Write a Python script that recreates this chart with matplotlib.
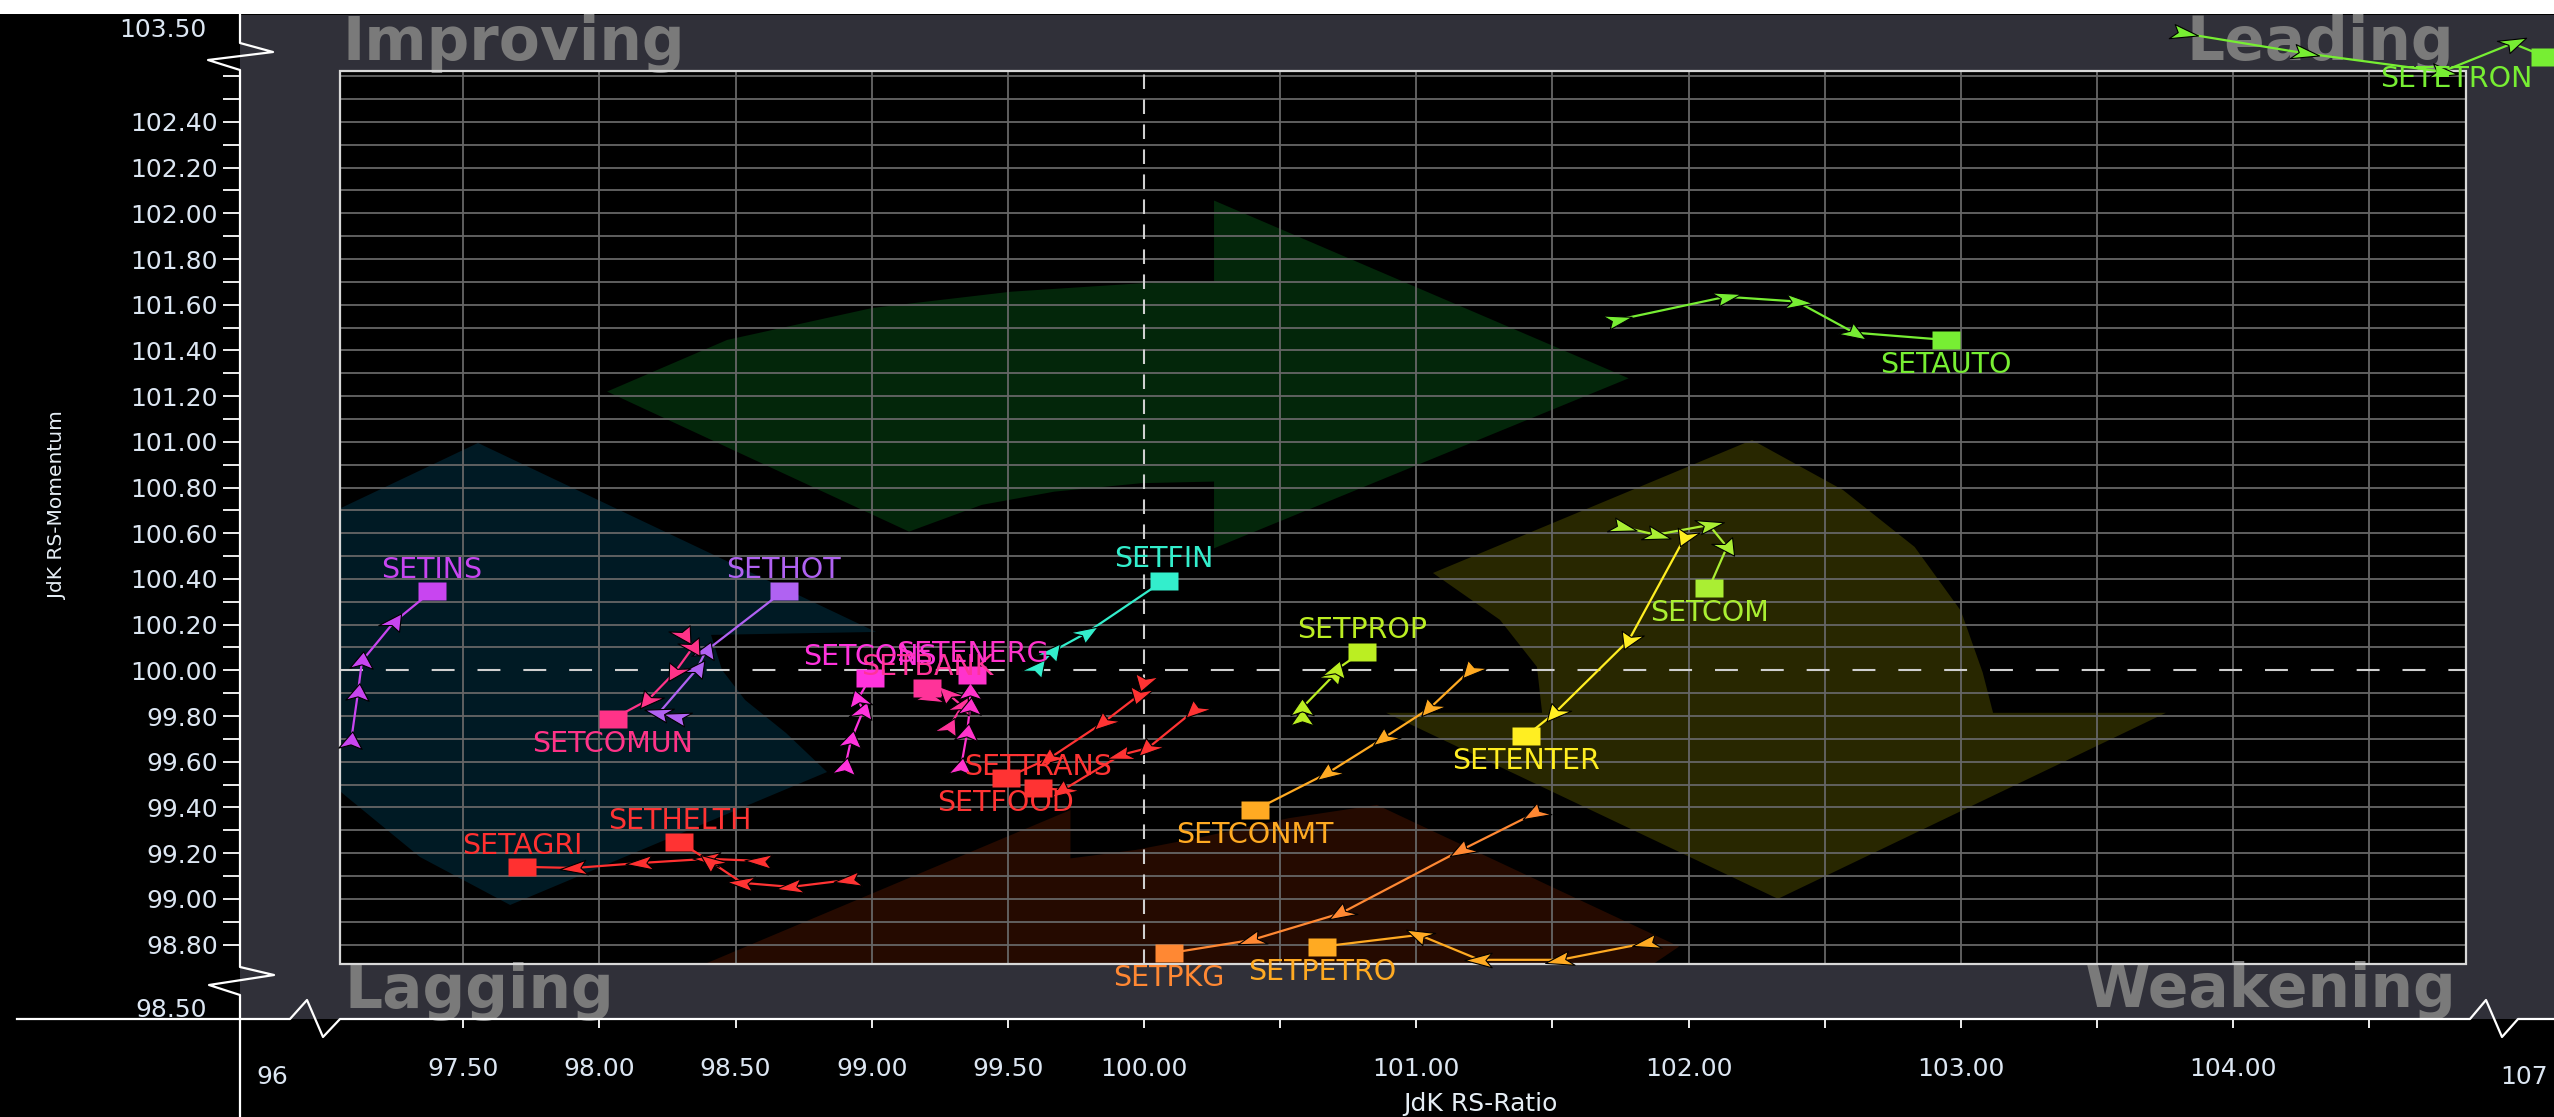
import numpy as np
import matplotlib
matplotlib.use('Agg')
import matplotlib.pyplot as plt
from matplotlib.markers import MarkerStyle
from matplotlib.path import Path
from matplotlib.patches import Polygon, Rectangle
from matplotlib.transforms import Affine2D

# sector tails (oldest -> latest), JdK RS-Ratio / JdK RS-Momentum
names = ['SETINS', 'SETHOT', 'SETCOMUN', 'SETAGRI', 'SETHELTH', 'SETCONS',
         'SETBANK', 'SETENERG', 'SETFIN', 'SETTRANS', 'SETFOOD', 'SETPROP',
         'SETCONMT', 'SETENTER', 'SETCOM', 'SETPKG', 'SETPETRO', 'SETAUTO',
         'SETETRON']

rs_ratio = [
    [97.088, 97.113, 97.128, 97.246, 97.385],
    [98.285, 98.219, 98.358, 98.391, 98.676],
    [98.311, 98.344, 98.278, 98.178, 98.048],
    [98.590, 98.399, 98.153, 97.909, 97.716],
    [98.917, 98.704, 98.524, 98.410, 98.294],
    [98.902, 98.924, 98.968, 98.950, 98.994],
    [99.284, 99.332, 99.280, 99.214, 99.203],
    [99.328, 99.350, 99.361, 99.361, 99.368],
    [99.606, 99.663, 99.786, 100.073],
    [100.187, 100.015, 99.916, 99.703, 99.609],
    [100.000, 99.982, 99.853, 99.655, 99.493],
    [100.580, 100.580, 100.698, 100.705, 100.802],
    [101.199, 101.050, 100.880, 100.675, 100.408],
    [101.987, 101.781, 101.509, 101.403],
    [101.755, 101.880, 102.075, 102.141, 102.075],
    [101.436, 101.166, 100.723, 100.396, 100.092],
    [101.847, 101.528, 101.232, 101.010, 100.655],
    [101.736, 102.137, 102.397, 102.607, 102.945],
    [103.816, 104.260, 104.767, 105.026, 105.145],
]

rs_momentum = [
    [99.691, 99.901, 100.041, 100.212, 100.347],
    [99.796, 99.814, 100.006, 100.085, 100.347],
    [100.155, 100.102, 99.993, 99.870, 99.787],
    [99.166, 99.175, 99.157, 99.135, 99.140],
    [99.083, 99.052, 99.070, 99.161, 99.249],
    [99.577, 99.695, 99.822, 99.875, 99.967],
    [99.752, 99.844, 99.897, 99.884, 99.923],
    [99.577, 99.726, 99.840, 99.905, 99.980],
    [100.009, 100.082, 100.162, 100.393],
    [99.827, 99.660, 99.630, 99.477, 99.485],
    [99.949, 99.892, 99.774, 99.617, 99.529],
    [99.792, 99.835, 99.980, 100.002, 100.082],
    [100.002, 99.835, 99.704, 99.551, 99.389],
    [100.584, 100.133, 99.814, 99.713],
    [100.628, 100.593, 100.636, 100.540, 100.361],
    [99.375, 99.214, 98.937, 98.820, 98.762],
    [98.807, 98.733, 98.733, 98.842, 98.791],
    [101.533, 101.635, 101.614, 101.478, 101.446],
    [102.788, 102.701, 102.620, 102.744, 102.686],
]

colors = ['#c845f0', '#b062f2', '#ff3388', '#ff3030', '#ff3333', '#ff33dd',
          '#ff3399', '#ff33cc', '#33eecc', '#ff3333', '#ff3333', '#bbee22',
          '#ffaa22', '#ffee22', '#aaee33', '#ff8833', '#ffaa22', '#77ee33',
          '#77ee33']

label_side = ['above', 'above', 'below', 'above', 'above', 'above',
              'above', 'above', 'above', 'above', 'below', 'above',
              'below', 'below', 'below', 'below', 'below', 'below',
              'below']

y_major = [98.8, 99.0, 99.2, 99.4, 99.6, 99.8, 100.0, 100.2, 100.4, 100.6,
           100.8, 101.0, 101.2, 101.4, 101.6, 101.8, 102.0, 102.2, 102.4]
x_major = [97.5, 98.0, 98.5, 99.0, 99.5, 100.0, 100.5, 101.0, 101.5, 102.0,
           102.5, 103.0, 103.5, 104.0, 104.5]
x_labels = ['97.50', '98.00', '98.50', '99.00', '99.50', '100.00', '',
            '101.00', '', '102.00', '', '103.00', '', '104.00', '']

# screenshot is stretched horizontally, markers follow that
STRETCH = 1.6
W, H = 2554, 1117

# background rotation arrows (data coords)
arrow_blue = [(97.554, 100.995), (99.016, 100.168), (98.410, 100.155),
              (98.450, 100.002), (98.535, 99.870), (98.685, 99.726),
              (98.836, 99.555), (97.672, 98.973), (97.341, 99.183),
              (97.055, 99.463), (96.827, 99.783), (96.717, 100.133),
              (96.092, 100.168)]
arrow_green = [(98.028, 101.220), (98.469, 101.446), (99.003, 101.586),
               (99.511, 101.657), (99.991, 101.694), (100.257, 101.701),
               (100.257, 102.056), (101.780, 101.278), (100.257, 100.534),
               (100.257, 100.826), (99.991, 100.819), (99.671, 100.782),
               (99.404, 100.724), (99.137, 100.607)]
arrow_yellow = [(102.233, 101.008), (102.567, 100.789), (102.830, 100.540),
                (103.000, 100.260), (103.080, 99.990), (103.118, 99.814),
                (103.753, 99.814), (102.328, 99.000), (100.889, 99.814),
                (101.462, 99.814), (101.443, 100.015), (101.307, 100.221),
                (101.061, 100.426)]
arrow_brown = [(100.855, 99.411), (100.532, 99.353), (100.195, 99.266),
               (99.970, 99.214), (99.730, 99.177), (99.730, 99.389),
               (98.204, 98.623), (99.730, 97.857), (99.730, 98.164),
               (100.206, 98.186), (100.940, 98.295), (101.675, 98.558),
               (101.965, 98.791)]

fig = plt.figure(figsize=(W / 100, H / 100), dpi=100, facecolor='black')

# main axes spans the grey frame (x 240..2554 px, y 15..1019 px)
ax = fig.add_axes([240 / W, (H - 1019) / H, (W - 240) / W, (1019 - 15) / H])
ax.set_facecolor('#303039')
ax.set_xlim(96.680, 105.178)
ax.set_ylim(98.474, 102.868)
for s in ax.spines.values():
    s.set_visible(False)

x0, x1, y0, y1 = 97.047, 104.855, 98.715, 102.623
inner = Rectangle((x0, y0), x1 - x0, y1 - y0, facecolor='black',
                  edgecolor='none', zorder=0.5)
ax.add_patch(inner)

for verts, col in [(arrow_blue, '#001a24'), (arrow_green, '#03260a'),
                   (arrow_yellow, '#282700'), (arrow_brown, '#250a00')]:
    p = Polygon(verts, closed=True, facecolor=col, edgecolor='none', zorder=0.8)
    ax.add_patch(p)
    p.set_clip_path(inner)

gx = [v for v in np.arange(97.5, 104.6, 0.5) if abs(v - 100) > 1e-6]
gy = [v for v in np.arange(98.8, 102.65, 0.1) if abs(v - 100) > 1e-6]
ax.vlines(gx, y0, y1, color='#666666', lw=1.3, zorder=1)
ax.hlines(gy, x0, x1, color='#666666', lw=1.3, zorder=1)
ax.vlines([100.0], y0, y1, color='#d0d0d0', lw=1.5, linestyle=(0, (7, 5)), zorder=1.1)
ax.hlines([100.0], x0, x1, color='#d0d0d0', lw=1.5, linestyle=(0, (11, 11)), zorder=1.1)
ax.add_patch(Rectangle((x0, y0), x1 - x0, y1 - y0, facecolor='none',
                       edgecolor='#d8d8d8', lw=1.6, zorder=2.5))

quad = dict(color='#7a7a7a', fontsize=43, fontweight='bold', zorder=1.2)
ax.text(97.055, 102.671, 'Improving', ha='left', va='baseline', **quad)
ax.text(104.811, 102.671, 'Leading', ha='right', va='baseline', **quad)
ax.text(97.062, 98.523, 'Lagging', ha='left', va='baseline', **quad)
ax.text(104.818, 98.527, 'Weakening', ha='right', va='baseline', **quad)

# ticks
ax.set_yticks(y_major)
ax.set_yticklabels(['%.2f' % v for v in y_major])
ax.set_yticks([98.9, 99.1, 99.3, 99.5, 99.7, 99.9, 100.1, 100.3, 100.5, 100.7,
               100.9, 101.1, 101.3, 101.5, 101.7, 101.9, 102.1, 102.3, 102.5,
               102.6], minor=True)
ax.set_xticks(x_major)
ax.set_xticklabels(x_labels)
ax.tick_params(axis='both', which='both', direction='out', color='white',
               width=1.3, labelcolor='#dce6f2', labelsize=18)
ax.tick_params(axis='y', which='both', length=12, pad=4)
ax.tick_params(axis='x', which='both', length=6.5, pad=21)

head = Path([(0, 1), (-0.75, -0.75), (0, -0.35), (0.75, -0.75), (0, 1)],
            [Path.MOVETO, Path.LINETO, Path.LINETO, Path.LINETO, Path.CLOSEPOLY])
square = MarkerStyle('s', transform=Affine2D().scale(STRETCH, 1))

for name, xs, ys, c, side in zip(names, rs_ratio, rs_momentum, colors, label_side):
    ax.plot(xs, ys, color=c, lw=1.6, zorder=3)
    pts = ax.transData.transform(np.column_stack([xs, ys]))
    for i in range(len(xs) - 1):
        a, b = (i, i + 1) if i == 0 else (i - 1, i)
        dx, dy = pts[b] - pts[a]
        ang = np.degrees(np.arctan2(dy, dx / STRETCH))
        m = MarkerStyle(head, transform=Affine2D().rotate_deg(ang - 90).scale(STRETCH, 1))
        ax.plot(xs[i], ys[i], marker=m, markersize=14, color=c,
                markeredgecolor='black', markeredgewidth=0.8, linestyle='none', zorder=4)
    ax.plot(xs[-1], ys[-1], marker=square, markersize=12.5, color=c,
            markeredgecolor='none', linestyle='none', zorder=5)
    if name == 'SETETRON':
        ax.annotate(name, (xs[-1], ys[-1]), xytext=(-119, -6), textcoords='offset points',
                    ha='left', va='top', color=c, fontsize=20.5, zorder=6)
    elif side == 'above':
        ax.annotate(name, (xs[-1], ys[-1]), xytext=(0, 9.5), textcoords='offset points',
                    ha='center', va='baseline', color=c, fontsize=20.5, zorder=6)
    else:
        ax.annotate(name, (xs[-1], ys[-1]), xytext=(0, -8), textcoords='offset points',
                    ha='center', va='top', color=c, fontsize=20.5, zorder=6)

# overlay in pixel coords for the broken axis lines and break labels
ov = fig.add_axes([0, 0, 1, 1], zorder=10)
ov.set_xlim(0, W)
ov.set_ylim(H, 0)
ov.axis('off')
ov.add_patch(Rectangle((0, 0), W, 14, facecolor='white', edgecolor='none'))
ov.plot([240, 240, 273, 208, 240, 240, 274, 209, 240, 240],
        [15, 43, 52, 60, 70, 967, 975, 985, 995, H], color='white', lw=1.6)
ov.plot([17, 290, 307, 323, 340, 2470, 2486, 2502, 2518, W],
        [1019, 1019, 1000, 1037, 1019, 1019, 1000, 1037, 1019, 1019],
        color='white', lw=1.6)

lab = dict(color='#dce6f2', fontsize=18)
ov.text(207, 30, '103.50', ha='right', va='center', **lab)
ov.text(207, 1010, '98.50', ha='right', va='center', **lab)
ov.text(272, 1077, '96', ha='center', va='center', **lab)
ov.text(2500, 1077, '107', ha='left', va='center', **lab)
ov.text(1480, 1104, 'JdK RS-Ratio', ha='center', va='center', color='#e6eef5', fontsize=18)
ov.text(57, 505, 'JdK RS-Momentum', ha='center', va='center', rotation=90,
        color='#e6eef5', fontsize=14.5)

fig.savefig('out.png', dpi=100, facecolor='black')
